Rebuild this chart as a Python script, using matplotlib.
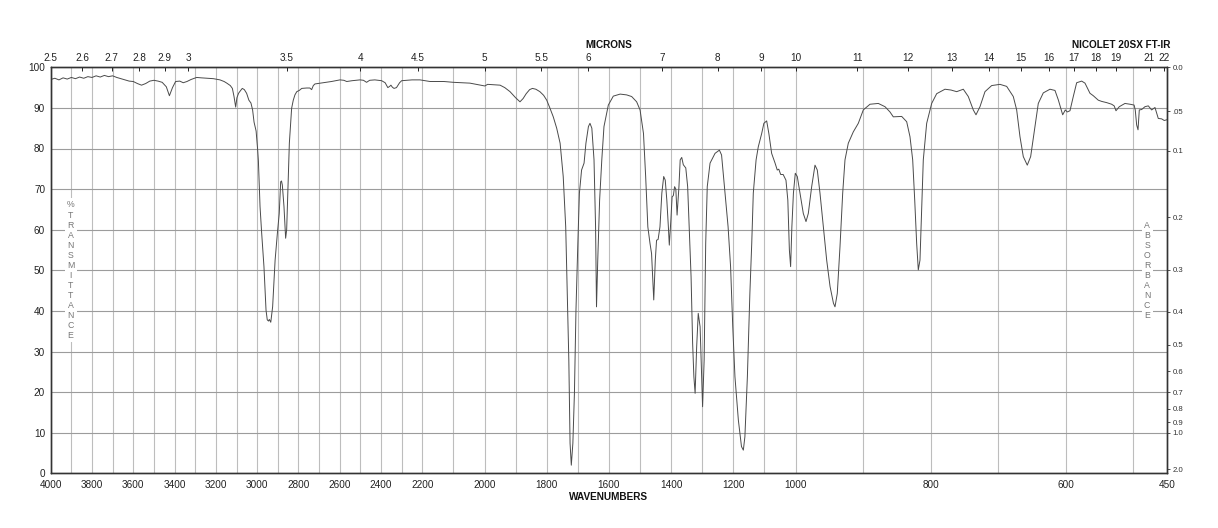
import numpy as np
import matplotlib.pyplot as plt

plt.rcParams['font.family'] = ['Liberation Sans', 'DejaVu Sans']

# spectrum (cm-1, %T)
wavenumber = [
    4000, 3980, 3960, 3940, 3920, 3900, 3880, 3860, 3840, 3820, 3800, 3780, 3760, 3740, 3720,
    3700, 3680, 3660, 3640, 3620, 3600, 3580, 3560, 3540, 3520, 3500, 3480, 3460, 3440, 3425,
    3410, 3395, 3375, 3358, 3340, 3320, 3293, 3270, 3240, 3212, 3180, 3160, 3147, 3130, 3120,
    3112, 3104, 3098, 3090, 3080, 3072, 3062, 3051, 3040, 3030, 3022, 3015, 3005, 2998, 2994,
    2986, 2978, 2967, 2957, 2951, 2945, 2941, 2934, 2925, 2913, 2902, 2893, 2886, 2882, 2878,
    2870, 2862, 2857, 2854, 2844, 2833, 2825, 2817, 2808, 2796, 2784, 2760, 2745, 2736, 2728,
    2720, 2680, 2640, 2599, 2580, 2566, 2540, 2502, 2485, 2470, 2455, 2430, 2397, 2380, 2367,
    2358, 2352, 2345, 2337, 2325, 2310, 2300, 2250, 2211, 2175, 2130, 2100, 2047, 2020, 1999,
    1990, 1970, 1950, 1935, 1918, 1900, 1886, 1876, 1866, 1855, 1846, 1835, 1822, 1810, 1800,
    1790, 1779, 1768, 1757, 1747, 1739, 1734, 1729, 1725, 1721, 1716, 1711, 1706, 1700, 1695,
    1688, 1680, 1674, 1666, 1661, 1655, 1648, 1643, 1640, 1636, 1630, 1623, 1616, 1602, 1586,
    1564, 1543, 1527, 1511, 1500, 1489, 1482, 1475, 1468, 1463, 1456, 1451, 1447, 1442, 1436,
    1430, 1424, 1419, 1414, 1409, 1406, 1401, 1397, 1393, 1389, 1385, 1381, 1375, 1371, 1366,
    1361, 1353, 1347, 1342, 1336, 1331, 1327, 1323, 1318, 1313, 1307, 1302, 1299, 1294, 1289,
    1284, 1275, 1259, 1245, 1238, 1227, 1217, 1209, 1202, 1195, 1184, 1174, 1168, 1163, 1155,
    1147, 1141, 1136, 1127, 1120, 1109, 1102, 1093, 1086, 1077, 1066, 1059, 1054, 1048, 1040,
    1031, 1025, 1020, 1016, 1012, 1007, 1001, 997.5, 993.5, 988.6, 984.6, 981.2, 976.2, 971.3, 967.9,
    963.9, 959, 954, 949, 944, 941.7, 938.3, 934.3, 930.3, 926.9, 922, 914.6, 907.2, 899.8, 889.9,
    877.6, 867.7, 860.3, 855.4, 843, 835.6, 830.7, 826.7, 823.7, 820.8, 818.4, 815.9, 813.4, 811, 806,
    798.6, 791.2, 778.9, 770, 761.6, 751.8, 744.4, 737, 733, 727.1, 719.7, 709.8, 697.5, 687.6, 677.8,
    672.8, 667.9, 663, 657.1, 652.1, 647.2, 640.8, 633.4, 623.5, 616.1, 611.2, 604.7, 600.8, 597.9, 593.9,
    589, 584, 576.6, 571.7, 564.3, 559.4, 552, 547, 539.6, 532.2, 528.5, 525.8, 520.9, 512.5, 505,
    499, 497.3, 495.2, 493.2, 491.3, 487.8, 482.9, 478, 473, 468.1, 463.2, 458.2, 454.4, 450,
]
transmittance = [
    97.0, 97.3, 96.9, 97.4, 97.1, 97.5, 97.2, 97.6, 97.3, 97.7, 97.5, 97.9, 97.6, 98.0, 97.7,
    97.9, 97.5, 97.2, 96.9, 96.6, 96.5, 96.0, 95.6, 96.0, 96.6, 96.8, 96.6, 96.3, 95.2, 93.0,
    95.0, 96.5, 96.6, 96.2, 96.5, 97.0, 97.5, 97.4, 97.3, 97.2, 96.9, 96.5, 96.1, 95.5, 94.8,
    92.8, 90.2, 92.5, 93.6, 94.3, 94.8, 94.5, 93.6, 91.9, 91.2, 89.5, 86.5, 84.3, 80.0, 77.0,
    65.7, 59.1, 50.9, 40.2, 37.8, 37.5, 37.9, 37.2, 41.0, 52.5, 59.1, 64.0, 71.8, 72.0, 71.0,
    65.7, 57.9, 60.0, 64.9, 81.3, 89.9, 91.9, 93.2, 94.0, 94.3, 94.8, 94.9, 94.9, 94.5, 95.5,
    95.9, 96.2, 96.5, 96.9, 96.8, 96.5, 96.7, 96.9, 96.8, 96.3, 96.8, 96.9, 96.7, 96.2, 95.0,
    95.3, 95.6, 95.1, 94.8, 95.0, 96.2, 96.7, 96.9, 96.9, 96.5, 96.5, 96.3, 96.1, 95.7, 95.4,
    95.8, 95.7, 95.6, 95.0, 94.0, 92.5, 91.5, 92.3, 93.5, 94.5, 94.8, 94.6, 94.0, 93.1, 91.9,
    90.0, 87.8, 85.0, 81.3, 73.1, 60.7, 44.3, 27.9, 7.4, 2.0, 7.4, 19.7, 40.2, 56.6, 69.0,
    74.7, 76.4, 81.3, 85.4, 86.2, 85.0, 77.2, 60.7, 41.0, 52.5, 67.3, 77.2, 85.4, 90.7, 92.9,
    93.4, 93.2, 92.8, 91.5, 89.5, 83.7, 73.1, 60.7, 56.6, 54.1, 42.7, 52.5, 57.4, 57.6, 60.7,
    69.0, 73.1, 72.2, 67.3, 60.7, 56.2, 62.3, 68.1, 68.4, 70.6, 70.0, 63.6, 70.6, 77.2, 77.8,
    76.0, 75.2, 70.6, 60.7, 48.4, 32.0, 23.8, 19.7, 31.2, 39.4, 36.1, 23.8, 16.4, 27.9, 56.6,
    70.6, 76.4, 78.8, 79.6, 78.4, 69.0, 60.7, 50.9, 36.1, 23.8, 13.1, 6.6, 5.7, 9.0, 23.8,
    44.3, 56.6, 69.0, 77.2, 80.4, 83.7, 86.2, 86.8, 83.7, 78.8, 76.4, 74.7, 74.9, 73.6, 73.6,
    72.2, 67.3, 55.0, 50.9, 60.7, 69.0, 73.9, 73.1, 69.0, 64.0, 62.0, 64.0, 70.6, 75.9, 74.7,
    69.0, 60.7, 52.5, 46.0, 41.9, 41.0, 44.3, 55.8, 69.0, 77.2, 81.3, 84.1, 86.2, 89.5, 90.9,
    91.1, 90.3, 89.0, 87.8, 87.9, 86.6, 82.9, 77.2, 67.3, 56.6, 50.1, 52.5, 64.9, 77.2, 86.2,
    91.1, 93.5, 94.6, 94.4, 94.0, 94.6, 92.8, 89.5, 88.3, 90.3, 94.0, 95.5, 95.8, 95.3, 92.8,
    89.5, 82.9, 78.0, 75.9, 78.0, 83.7, 91.1, 93.7, 94.6, 94.3, 92.0, 88.3, 89.5, 89.0, 89.3,
    92.8, 96.2, 96.6, 96.1, 93.6, 93.0, 91.9, 91.6, 91.3, 90.9, 90.5, 89.3, 90.3, 91.1, 90.9,
    90.7, 89.5, 85.8, 84.6, 89.5, 89.6, 90.3, 90.5, 89.5, 90.1, 87.4, 87.3, 86.9, 87.1,
]

wn_ticks = [4000, 3800, 3600, 3400, 3200, 3000, 2800, 2600, 2400, 2200, 2000,
            1800, 1600, 1400, 1200, 1000, 800, 600, 450]
micron_labels = ['2.5', '2.6', '2.7', '2.8', '2.9', '3', '3.5', '4', '4.5', '5', '5.5',
                 '6', '7', '8', '9', '10', '11', '12', '13', '14', '15', '16', '17',
                 '18', '19', '21', '22']
absorbance_ticks = [0.0, 0.05, 0.1, 0.2, 0.3, 0.4, 0.5, 0.6, 0.7, 0.8, 0.9, 1.0, 2.0]
absorbance_labels = ['0.0', '.05', '0.1', '0.2', '0.3', '0.4', '0.5', '0.6', '0.7',
                     '0.8', '0.9', '1.0', '2.0']

# chart paper: wavenumber axis is piecewise linear (breaks at 2200 and 1000)
brk_wn = [450, 1000, 2200, 4000]
brk_pos = [0, 371.6, 744.9, 1116.5]


def fwd(w):
    return np.interp(w, brk_wn, brk_pos)


def inv(p):
    return np.interp(p, brk_pos, brk_wn)


fig = plt.figure(figsize=(12.18, 5.28), dpi=100)
ax = fig.add_axes([50.7 / 1218, 1 - 473.3 / 528, 1116.5 / 1218, 406 / 528])

ax.set_xscale('function', functions=(fwd, inv))
ax.set_xlim(4000, 450)
ax.set_ylim(0, 100)

ax.plot(wavenumber, transmittance, color='#4a4a4a', lw=0.7, zorder=3)

ax.set_xticks(wn_ticks)
ax.set_xticklabels([str(t) for t in wn_ticks])
ax.set_xticks(list(range(500, 4000, 100)), minor=True)
ax.set_yticks(range(0, 101, 10))
ax.tick_params(axis='both', which='both', length=0, labelsize=7.2, colors='#222222')
ax.tick_params(axis='x', pad=5)
ax.tick_params(axis='y', pad=4)
ax.grid(which='both', axis='x', color='#bdbdbd', lw=0.8)
ax.grid(which='major', axis='y', color='#9c9c9c', lw=0.8)
ax.set_axisbelow(True)

# top microns axis
ax2 = ax.twiny()
ax2.set_xscale('function', functions=(fwd, inv))
ax2.set_xlim(4000, 450)
ax2.set_xticks([10000 / float(m) for m in micron_labels])
ax2.set_xticklabels(micron_labels)
ax2.tick_params(axis='x', direction='in', length=3, width=0.7, pad=3,
                labelsize=7.2, colors='#222222')

# right absorbance axis
ax3 = ax.twinx()
ax3.set_ylim(0, 100)
ax3.set_yticks([100 * 10 ** (-a) for a in absorbance_ticks])
ax3.set_yticklabels(absorbance_labels)
ax3.tick_params(axis='y', direction='out', length=2.5, width=0.6, pad=1.5,
                labelsize=5.6, colors='#333333')

for a in (ax, ax2, ax3):
    for s in a.spines.values():
        s.set_color('#333333')
        s.set_linewidth(0.9)

box = dict(facecolor='white', edgecolor='none', pad=1.5)
ax.text(0.0179, 0.5, '\n'.join('%TRANSMITTANCE'), transform=ax.transAxes,
        ha='center', va='center', fontsize=6.3, linespacing=1.15,
        color='#777777', bbox=box, zorder=4)
ax.text(0.982, 0.5, '\n'.join('ABSORBANCE'), transform=ax.transAxes,
        ha='center', va='center', fontsize=6.3, linespacing=1.15,
        color='#777777', bbox=box, zorder=4)

fig.text(0.5, 1 - 45 / 528, 'MICRONS', ha='center', va='center',
         fontsize=7.2, fontweight='bold', color='#111111')
fig.text(1170 / 1218, 1 - 45 / 528, 'NICOLET 20SX FT-IR', ha='right', va='center',
         fontsize=7.2, fontweight='bold', color='#111111')
fig.text(0.5, 1 - 496.7 / 528, 'WAVENUMBERS', ha='center', va='center',
         fontsize=7.2, fontweight='bold', color='#111111')

fig.savefig('out.png', dpi=100)
